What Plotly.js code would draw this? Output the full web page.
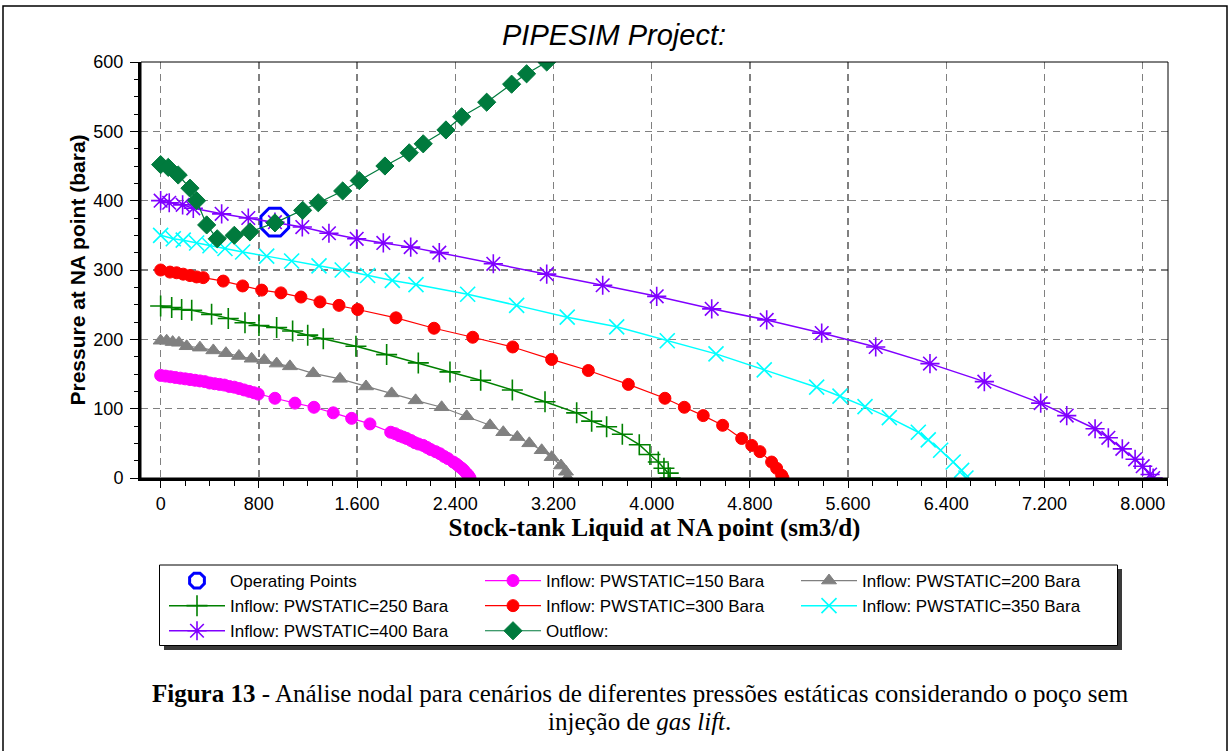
<!DOCTYPE html>
<html>
<head>
<meta charset="utf-8">
<script src="https://cdn.plot.ly/plotly-3.0.1.min.js"></script>
<style>html,body{margin:0;padding:0;background:#fff;}#chart{width:1231px;height:751px;}</style>
</head>
<body>
<div id="chart"></div>
<script>
// ---- data ----
const opX = [930];
const opY = [369];

const in150X = [0, 40, 80, 120, 160, 200, 240, 280, 320, 360, 400, 440, 480, 520, 560, 600, 640, 680, 720, 760, 795, 931, 1094, 1249, 1406, 1556, 1705, 1874, 1910, 1945, 1975, 2004, 2040, 2070, 2100, 2139, 2170, 2200, 2240, 2275, 2310, 2340, 2384, 2410, 2430, 2452, 2470, 2490, 2506, 2515, 2520];
const in150Y = [148, 147, 146, 145, 144, 143, 142, 141, 140, 139, 137, 136, 135, 134, 132, 131, 129, 127, 125, 123, 121, 115, 108, 102, 94, 86, 78, 66, 64, 61, 59, 57, 54, 51, 49, 47, 44, 41, 38, 35, 31, 28, 23, 20, 17, 14, 11, 7, 4, 1, 0];

const in200X = [0, 49, 98, 149, 212, 320, 429, 532, 638, 741, 844, 945, 1053, 1243, 1461, 1673, 1882, 2077, 2289, 2493, 2683, 2791, 2905, 3003, 3104, 3185, 3261, 3302, 3315];
const in200Y = [198, 198, 196, 195, 190, 188, 184, 180, 176, 172, 170, 165, 161, 151, 143, 132, 122, 112, 102, 89, 76, 66, 59, 50, 40, 30, 18, 9, 0];

const in250X = [0, 90, 171, 253, 415, 551, 687, 801, 945, 1075, 1198, 1325, 1591, 1841, 2099, 2357, 2607, 2865, 3131, 3389, 3511, 3633, 3761, 3899, 3986, 4054, 4100, 4135, 4150];
const in250Y = [248, 246, 243, 242, 236, 230, 224, 220, 217, 212, 206, 201, 190, 178, 166, 153, 141, 127, 110, 94, 82, 74, 63, 48, 34, 23, 14, 7, 0];

const in300X = [0, 76, 130, 184, 239, 293, 347, 510, 668, 823, 980, 1143, 1298, 1453, 1605, 1917, 2227, 2542, 2868, 3185, 3484, 3810, 4108, 4266, 4420, 4578, 4733, 4815, 4882, 4977, 5018, 5059, 5070];
const in300Y = [300, 297, 296, 294, 292, 290, 289, 284, 277, 271, 267, 261, 254, 249, 243, 231, 216, 203, 189, 171, 155, 135, 115, 102, 90, 76, 57, 47, 38, 23, 14, 4, 0];

const in350X = [0, 103, 184, 293, 402, 524, 668, 864, 1067, 1290, 1479, 1686, 1887, 2080, 2501, 2900, 3312, 3715, 4127, 4524, 4917, 5344, 5534, 5738, 5936, 6172, 6253, 6354, 6456, 6525, 6560];
const in350Y = [350, 345, 343, 339, 335, 331, 326, 320, 313, 306, 300, 292, 285, 279, 265, 249, 232, 218, 198, 179, 156, 131, 118, 103, 87, 66, 55, 40, 23, 11, 0];

const in400X = [0, 70, 179, 266, 497, 714, 931, 1154, 1371, 1597, 1814, 2037, 2270, 2710, 3145, 3601, 4041, 4489, 4937, 5385, 5825, 6267, 6710, 7169, 7381, 7612, 7720, 7834, 7938, 8000, 8060, 8085];
const in400Y = [400, 397, 394, 389, 381, 375, 369, 362, 353, 345, 339, 333, 325, 309, 294, 278, 262, 244, 228, 209, 189, 165, 139, 108, 90, 71, 58, 42, 27, 17, 5, 0];

const outX = [0, 62, 143, 239, 293, 375, 461, 600, 727, 931, 1157, 1284, 1483, 1618, 1827, 2025, 2139, 2324, 2452, 2656, 2859, 2981, 3145, 3300];
const outY = [452, 448, 437, 418, 400, 365, 345, 350, 355, 368, 386, 397, 414, 429, 450, 469, 482, 502, 521, 542, 568, 583, 600, 618];

const seriesNames = ['Operating Points', 'Inflow: PWSTATIC=150 Bara', 'Inflow: PWSTATIC=200 Bara',
  'Inflow: PWSTATIC=250 Bara', 'Inflow: PWSTATIC=300 Bara', 'Inflow: PWSTATIC=350 Bara',
  'Inflow: PWSTATIC=400 Bara', 'Outflow:'];

const xTickVals = [0, 800, 1600, 2400, 3200, 4000, 4800, 5600, 6400, 7200, 8000];
const xTickText = ['0', '800', '1.600', '2.400', '3.200', '4.000', '4.800', '5.600', '6.400', '7.200', '8.000'];
const yTickVals = [0, 100, 200, 300, 400, 500, 600];
const yTickText = ['0', '100', '200', '300', '400', '500', '600'];

const chartTitle = 'PIPESIM Project:';
const xTitle = 'Stock-tank Liquid at NA point (sm3/d)';
const yTitle = 'Pressure at NA point (bara)';
const captionLine1 = '<b>Figura 13</b> - Análise nodal para cenários de diferentes pressões estáticas considerando o poço sem';
const captionLine2 = 'injeção de <i>gas lift</i>.';

// ---- geometry helpers (pixel -> paper) ----
const W = 1231, H = 751;
const L = 141, R = 1168, T = 62, B = 478;
const px = v => (v - L) / (R - L);
const py = v => (B - v) / (B - T);

const SANS = 'Liberation Sans, Arial, sans-serif';
const SERIF = 'Liberation Serif, Times New Roman, serif';

function line(name, xs, ys, color, symbol, size, lw, mlw) {
  return {
    type: 'scatter', mode: 'lines+markers', name: name, x: xs, y: ys,
    line: {color: color, width: lw},
    marker: {color: color, symbol: symbol, size: size, line: {color: color, width: mlw}},
    cliponaxis: true
  };
}

const traces = [
  {type: 'scatter', mode: 'markers', name: seriesNames[0], x: opX, y: opY,
   marker: {symbol: 'octagon-open', size: 30, color: '#0000FF', line: {color: '#0000FF', width: 3}}},
  line(seriesNames[1], in150X, in150Y, '#FF00FF', 'circle', 12, 1.2, 1),
  line(seriesNames[2], in200X, in200Y, '#808080', 'triangle-up', 13, 1.2, 1),
  line(seriesNames[3], in250X, in250Y, '#008000', 'cross-thin-open', 15, 1.5, 1.6),
  line(seriesNames[4], in300X, in300Y, '#FF0000', 'circle', 12, 1.2, 1),
  line(seriesNames[5], in350X, in350Y, '#00FFFF', 'x-thin-open', 15, 1.5, 1.6),
  line(seriesNames[6], in400X, in400Y, '#8000FF', 'asterisk-open', 16, 1.5, 1.6),
  line(seriesNames[7], outX, outY, '#007A3D', 'diamond', 14, 1.2, 1)
];

const layout = {
  width: W, height: H,
  margin: {l: L, r: W - R, t: T, b: H - B, pad: 0},
  paper_bgcolor: '#fff', plot_bgcolor: '#fff',
  font: {family: SANS, color: '#000'},
  showlegend: true,
  title: {text: chartTitle, font: {family: SANS, size: 29, style: 'italic', color: '#000'},
          xref: 'container', yref: 'container', x: 614 / W, y: 1 - 35 / H, xanchor: 'center', yanchor: 'middle'},
  xaxis: {
    range: [-160, 8206], tickmode: 'array', tickvals: xTickVals, ticktext: xTickText,
    ticks: 'outside', ticklen: 7, tickwidth: 1, tickcolor: '#000',
    tickfont: {family: SANS, size: 18, color: '#000'}, ticklabelstandoff: 0,
    showgrid: true, gridcolor: '#808080', gridwidth: 1.5, griddash: '7px,5px',
    zeroline: false, showline: true, linecolor: '#000', linewidth: 3,
    minor: {tickmode: 'linear', tick0: 0, dtick: 200, ticks: 'outside', ticklen: 5, tickcolor: '#000', tickwidth: 1, showgrid: false},
    title: {text: xTitle, font: {family: SERIF, size: 25, weight: 'bold', color: '#000'}, standoff: 4}
  },
  yaxis: {
    range: [0, 600], tickmode: 'array', tickvals: yTickVals, ticktext: yTickText,
    ticks: 'outside', ticklen: 8, tickwidth: 1, tickcolor: '#000',
    tickfont: {family: SANS, size: 18, color: '#000'}, ticklabelstandoff: 3,
    showgrid: true, gridcolor: '#808080', gridwidth: 1.5, griddash: '7px,5px',
    zeroline: false, showline: true, linecolor: '#000', linewidth: 3,
    minor: {tickmode: 'linear', tick0: 0, dtick: 25, ticks: 'outside', ticklen: 4, tickcolor: '#000', tickwidth: 1, showgrid: false},
    title: {text: yTitle, font: {family: SANS, size: 21, weight: 'bold', color: '#000'}, standoff: 3}
  },
  legend: {
    orientation: 'h', xref: 'container', yref: 'container',
    x: 164 / W, y: 1 - 563 / H, xanchor: 'left', yanchor: 'top',
    bgcolor: 'rgba(0,0,0,0)', borderwidth: 0,
    font: {family: SANS, size: 17, color: '#000'},
    entrywidth: 245, entrywidthmode: 'pixels', itemwidth: 56, traceorder: 'normal'
  },
  shapes: [
    // outer page frame
    {type: 'rect', xref: 'paper', yref: 'paper', x0: px(3), x1: px(1227), y0: py(790), y1: py(6),
     line: {color: '#000', width: 1.5}, fillcolor: 'rgba(0,0,0,0)', layer: 'below'},
    // plot box (thin top/right)
    {type: 'rect', xref: 'paper', yref: 'paper', x0: 0, x1: 1, y0: 0, y1: 1,
     line: {color: '#000', width: 1}, fillcolor: 'rgba(0,0,0,0)', layer: 'above'},
    // legend shadow
    {type: 'rect', xref: 'paper', yref: 'paper', x0: px(164), x1: px(1122), y0: py(650), y1: py(569),
     line: {width: 0}, fillcolor: '#3a3a3a', layer: 'above'},
    // legend box
    {type: 'rect', xref: 'paper', yref: 'paper', x0: px(159.5), x1: px(1117.5), y0: py(645.5), y1: py(565),
     line: {color: '#000', width: 1}, fillcolor: '#fff', layer: 'above'}
  ],
  annotations: [
    {text: captionLine1, xref: 'paper', yref: 'paper', x: px(640), y: py(693), xanchor: 'center', yanchor: 'middle',
     showarrow: false, font: {family: SERIF, size: 25, color: '#000'}},
    {text: captionLine2, xref: 'paper', yref: 'paper', x: px(639), y: py(721), xanchor: 'center', yanchor: 'middle',
     showarrow: false, font: {family: SERIF, size: 25, color: '#000'}}
  ]
};

Plotly.newPlot('chart', traces, layout, {displayModeBar: false, staticPlot: true});
</script>
</body>
</html>
